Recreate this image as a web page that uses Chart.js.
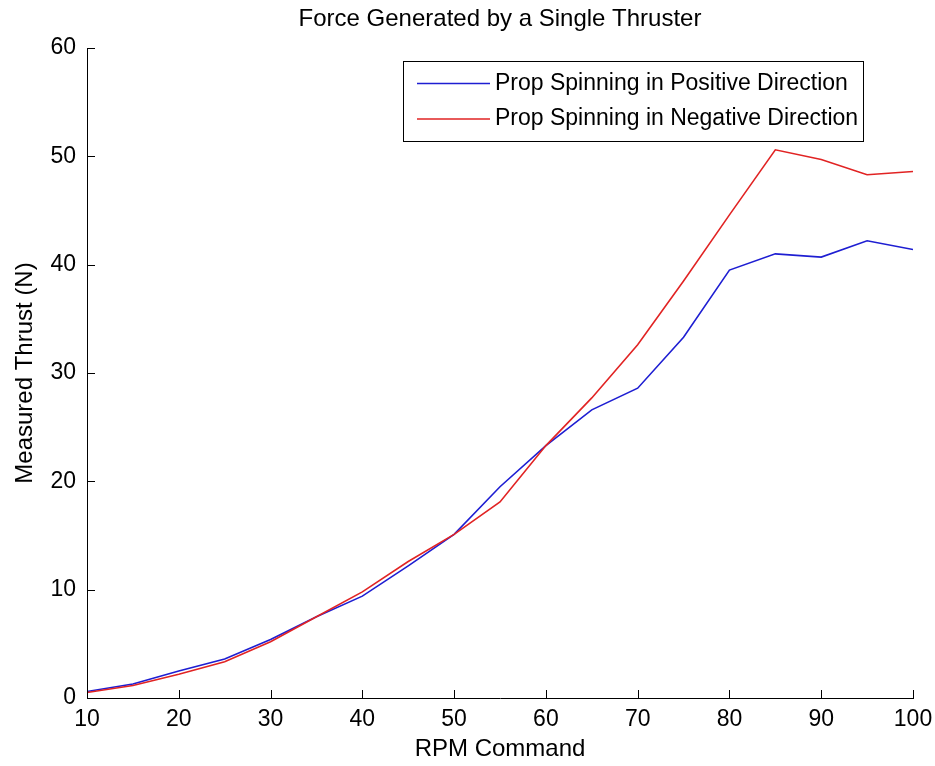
<!DOCTYPE html>
<html lang="en">
  <head>
    <meta charset="UTF-8" />
    <meta name="viewport" content="width=device-width, initial-scale=1.0" />
    <title>thruster force</title>
    <script src="https://cdn.jsdelivr.net/npm/chart.js@4.4.0/dist/chart.umd.min.js"></script>
    <style>
      body { margin: 0; background: #fff; }
    </style>
  </head>
  <body>
    <canvas id="myChart" width="935" height="766"></canvas>

    <script>
      // RPM command steps and measured thrust (N) for each prop direction
      const rpm = [10, 15, 20, 25, 30, 35, 40, 45, 50, 55, 60, 65, 70, 75, 80, 85, 90, 95, 100];
      const posThrust = [0.6, 1.3, 2.5, 3.6, 5.4, 7.5, 9.4, 12.2, 15.1, 19.5, 23.3, 26.6, 28.6, 33.3, 39.5, 41.0, 40.7, 42.2, 41.4];
      const negThrust = [0.5, 1.15, 2.2, 3.35, 5.2, 7.5, 9.8, 12.6, 15.1, 18.1, 23.3, 27.7, 32.6, 38.5, 44.6, 50.6, 49.7, 48.3, 48.6];
      const xTicks = [10, 20, 30, 40, 50, 60, 70, 80, 90, 100];
      const yTicks = [0, 10, 20, 30, 40, 50, 60];

      const FONT = '"Liberation Sans", Arial, Helvetica, sans-serif';
      Chart.defaults.font.family = FONT;
      Chart.defaults.color = '#000';

      const toPoints = (ys) => rpm.map((r, i) => ({ x: r, y: ys[i] }));

      // matlab style tick marks pointing into the plot
      const inTicks = {
        id: 'inTicks',
        afterDatasetsDraw(chart) {
          const { ctx, chartArea, scales } = chart;
          ctx.save();
          ctx.strokeStyle = '#000';
          ctx.lineWidth = 1;
          ctx.beginPath();
          xTicks.forEach(v => {
            const px = Math.round(scales.x.getPixelForValue(v)) + 0.5;
            ctx.moveTo(px, chartArea.bottom);
            ctx.lineTo(px, chartArea.bottom - 8);
          });
          yTicks.forEach(v => {
            const py = Math.round(scales.y.getPixelForValue(v)) + 0.5;
            ctx.moveTo(chartArea.left, py);
            ctx.lineTo(chartArea.left + 8, py);
          });
          ctx.stroke();
          ctx.restore();
        }
      };

      // boxed legend in the top right corner of the plot
      const boxLegend = {
        id: 'boxLegend',
        afterDraw(chart) {
          const { ctx, chartArea } = chart;
          const sets = chart.data.datasets;
          ctx.save();
          ctx.font = '23px ' + FONT;
          const textW = Math.max(...sets.map(d => ctx.measureText(d.label).width));
          const w = Math.round(14 + 73 + 5 + textW + 5);
          const h = 80;
          const right = Math.round(chartArea.right - 50);
          const left = right - w;
          const top = Math.round(chartArea.top + 13);
          ctx.fillStyle = '#fff';
          ctx.fillRect(left, top, w, h);
          ctx.strokeStyle = '#000';
          ctx.lineWidth = 1;
          ctx.strokeRect(left + 0.5, top + 0.5, w, h);
          sets.forEach((d, i) => {
            const y = top + 22.5 + i * 35.5;
            ctx.strokeStyle = d.borderColor;
            ctx.lineWidth = d.borderWidth;
            ctx.beginPath();
            ctx.moveTo(left + 14, y);
            ctx.lineTo(left + 87, y);
            ctx.stroke();
            ctx.fillStyle = '#000';
            ctx.textBaseline = 'middle';
            ctx.textAlign = 'left';
            ctx.fillText(d.label, left + 92, y);
          });
          ctx.restore();
        }
      };

      const ctx = document.getElementById('myChart').getContext('2d');
      const myChart = new Chart(ctx, {
        type: 'line',
        data: {
          datasets: [
            {
              label: 'Prop Spinning in Positive Direction',
              data: toPoints(posThrust),
              borderColor: 'rgb(30, 30, 210)',
              borderWidth: 1.6,
              pointRadius: 0,
              tension: 0,
              order: 1
            },
            {
              label: 'Prop Spinning in Negative Direction',
              data: toPoints(negThrust),
              borderColor: 'rgb(225, 35, 35)',
              borderWidth: 1.6,
              pointRadius: 0,
              tension: 0,
              order: 0
            }
          ]
        },
        options: {
          responsive: false,
          animation: false,
          layout: { padding: { left: 0, right: 22, top: 0, bottom: 0 } },
          plugins: {
            legend: { display: false },
            tooltip: { enabled: false },
            title: {
              display: true,
              fullSize: false,
              text: 'Force Generated by a Single Thruster',
              color: '#000',
              font: { size: 24, weight: 'normal' },
              padding: { top: 5, bottom: 14.2 }
            }
          },
          scales: {
            x: {
              type: 'linear',
              min: 10,
              max: 100,
              afterBuildTicks: (s) => { s.ticks = xTicks.map(v => ({ value: v })); },
              afterFit: (s) => { s.height = 68; s.paddingLeft = 0; s.paddingRight = 0; },
              ticks: { padding: 8, maxRotation: 0, autoSkip: false, font: { size: 23 }, color: '#000' },
              grid: { display: false, drawTicks: false },
              border: { display: true, color: '#000', width: 1 },
              title: {
                display: true,
                text: 'RPM Command',
                color: '#000',
                font: { size: 24 },
                padding: { top: 0, bottom: 2 }
              }
            },
            y: {
              min: 0,
              max: 60,
              afterBuildTicks: (s) => { s.ticks = yTicks.map(v => ({ value: v })); },
              afterFit: (s) => { s.width = 87; s.paddingTop = 0; s.paddingBottom = 0; },
              ticks: { padding: 11, font: { size: 23 }, color: '#000' },
              grid: { display: false, drawTicks: false },
              border: { display: true, color: '#000', width: 1 },
              title: {
                display: true,
                text: 'Measured Thrust (N)',
                color: '#000',
                font: { size: 24 },
                padding: { top: 11, bottom: 0 }
              }
            }
          }
        },
        plugins: [inTicks, boxLegend]
      });
    </script>
  </body>
</html>
